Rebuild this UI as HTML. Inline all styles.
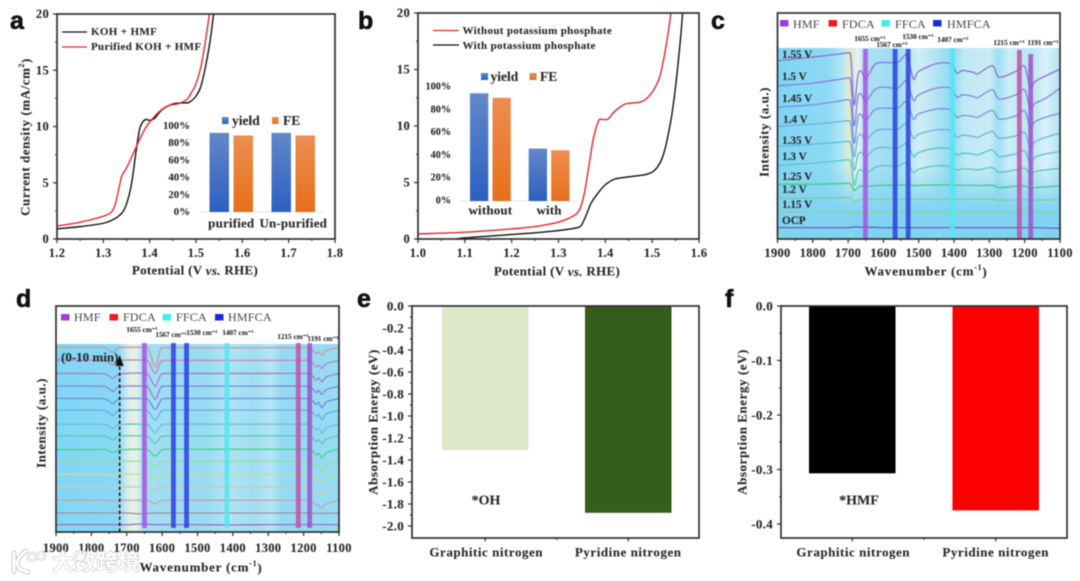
<!DOCTYPE html>
<html lang="en">
<head>
<meta charset="utf-8">
<title>HMF electro-oxidation figure</title>
<style>
html,body{margin:0;padding:0;background:#fff;width:1080px;height:581px;overflow:hidden}
svg{display:block;filter:blur(.45px)}
text{font-family:"Liberation Serif","Noto Serif CJK SC",serif;font-weight:bold;fill:#2b2b2b;stroke:#2b2b2b;stroke-width:.12}
.pl{font-family:"Liberation Sans",sans-serif;font-size:25px;fill:#111;stroke:#111;stroke-width:.6}
.tick{font-size:12.5px;letter-spacing:.3px}
.etick{font-size:13px;letter-spacing:.3px}
.title{font-size:13px;letter-spacing:.55px}
.leg{font-size:11px;letter-spacing:.34px}
.inleg{font-size:13.5px}
.intick{font-size:9.5px}
.cat{font-size:13px;letter-spacing:.53px}
.peak{font-size:7.2px;text-anchor:middle;dominant-baseline:central}
.spec{font-family:"Liberation Serif",serif;font-size:12px;font-weight:normal;fill:#444;stroke:none;letter-spacing:.2px;dominant-baseline:central}
.volt{font-size:11.2px;dominant-baseline:central}
.mid{text-anchor:middle;dominant-baseline:central}
.end{text-anchor:end;dominant-baseline:central}
.st{dominant-baseline:central}
</style>
</head>
<body>
<svg id="fig" xmlns="http://www.w3.org/2000/svg" width="1080" height="581" viewBox="0 0 1080 581">
<defs>
<linearGradient id="gb" x1="0" y1="0" x2="0" y2="1"><stop offset="0" stop-color="#6288ca"/><stop offset="1" stop-color="#2c60c0"/></linearGradient>
<linearGradient id="go" x1="0" y1="0" x2="0" y2="1"><stop offset="0" stop-color="#ec8e52"/><stop offset="1" stop-color="#e76f1a"/></linearGradient>
<linearGradient id="bgc" x1="0" y1="0" x2="1" y2="0">
<stop offset="0" stop-color="#7fd5f4"/><stop offset=".18" stop-color="#8edaf5"/><stop offset=".23" stop-color="#b5e6f5"/><stop offset=".25" stop-color="#e0ead0"/><stop offset=".27" stop-color="#dfead8"/><stop offset=".285" stop-color="#e6f3f5"/><stop offset=".31" stop-color="#a8e0f3"/><stop offset=".36" stop-color="#a8dff3"/><stop offset=".42" stop-color="#98dbf2"/><stop offset=".5" stop-color="#d0eef6"/><stop offset=".55" stop-color="#b8e6f3"/><stop offset=".62" stop-color="#8cdaf0"/><stop offset=".66" stop-color="#bfe9f5"/><stop offset=".75" stop-color="#c8ecf6"/><stop offset=".78" stop-color="#a0dff2"/><stop offset=".82" stop-color="#cdeef6"/><stop offset=".9" stop-color="#b5e6f4"/><stop offset=".95" stop-color="#daf1f7"/><stop offset="1" stop-color="#b0e3f4"/>
</linearGradient>
<linearGradient id="bgd" x1="0" y1="0" x2="1" y2="0">
<stop offset="0" stop-color="#82d6f5"/><stop offset=".22" stop-color="#88d8f5"/><stop offset=".25" stop-color="#cfeaf0"/><stop offset=".265" stop-color="#e4f0e2"/><stop offset=".285" stop-color="#e2f1ea"/><stop offset=".31" stop-color="#a2dff3"/><stop offset=".53" stop-color="#98dbf2"/><stop offset=".6" stop-color="#b0e4f4"/><stop offset=".7" stop-color="#a0def3"/><stop offset=".76" stop-color="#b4e6f4"/><stop offset=".8" stop-color="#93daf2"/><stop offset="1" stop-color="#98dcf3"/>
</linearGradient>
<linearGradient id="fade" x1="0" y1="0" x2="0" y2="1"><stop offset=".62" stop-color="#80d4f2" stop-opacity="0"/><stop offset=".85" stop-color="#80d4f2" stop-opacity="1"/></linearGradient>
</defs>

<!-- Panel a -->
<g id="panel-a">
<text class="pl" x="10" y="29">a</text>
<g id="a-plot"></g>
<line x1="62" x2="87" y1="32" y2="32" stroke="#111" stroke-width="1.3"/>
<text class="leg st" x="91" y="32">KOH + HMF</text>
<line x1="62" x2="87" y1="47" y2="47" stroke="#e8252b" stroke-width="1.3"/>
<text class="leg st" x="91" y="47">Purified KOH + HMF</text>
<text class="title mid" transform="translate(25 137) rotate(-90)">Current density (mA/cm<tspan dy="-4" font-size="8">2</tspan><tspan dy="4">)</tspan></text>
<text class="title mid" style="letter-spacing:.32px" x="195" y="270">Potential (V <tspan font-style="italic">vs.</tspan> RHE)</text>
<rect x="222" y="117" width="6.5" height="7" fill="url(#gb)"/>
<text class="inleg st" x="232" y="120.5">yield</text>
<rect x="272" y="117" width="6.5" height="7" fill="url(#go)"/>
<text class="inleg st" x="283" y="120.5">FE</text>
</g>

<!-- Panel b -->
<g id="panel-b">
<text class="pl" x="358" y="29">b</text>
<g id="b-plot"></g>
<line x1="433" x2="459" y1="30.5" y2="30.5" stroke="#e8252b" stroke-width="1.3"/>
<text class="leg st" x="462.5" y="31">Without potassium phosphate</text>
<line x1="433" x2="459" y1="45" y2="45" stroke="#111" stroke-width="1.3"/>
<text class="leg st" x="462.5" y="46">With potassium phosphate</text>
<text class="title mid" style="letter-spacing:.32px" x="557" y="271">Potential (V <tspan font-style="italic">vs.</tspan> RHE)</text>
<rect x="481" y="73" width="7" height="7" fill="url(#gb)"/>
<text class="inleg st" x="490.5" y="76.5">yield</text>
<rect x="529.5" y="73" width="7" height="7" fill="url(#go)"/>
<text class="inleg st" x="540" y="76.5">FE</text>
</g>

<!-- Panel c -->
<g id="panel-c">
<text class="pl" x="711" y="29">c</text>
<g id="c-plot"></g>
<rect x="780" y="20" width="8.5" height="6.5" fill="#9a3fe0"/>
<text class="spec" x="793" y="24">HMF</text>
<rect x="828.5" y="20" width="8.5" height="6.5" fill="#f01818"/>
<text class="spec" x="842" y="24">FDCA</text>
<rect x="881.5" y="20" width="8.5" height="6.5" fill="#3cf0f0"/>
<text class="spec" x="895" y="24">FFCA</text>
<rect x="933" y="20" width="8.5" height="6.5" fill="#1a28e0"/>
<text class="spec" x="947" y="24">HMFCA</text>
<text class="title mid" transform="translate(764 132) rotate(-90)">Intensity (a.u.)</text>
<text class="title mid" style="letter-spacing:.76px" x="926" y="271">Wavenumber (cm<tspan dy="-4" font-size="8">-1</tspan><tspan dy="4">)</tspan></text>
</g>

<!-- Panel d -->
<g id="panel-d">
<text class="pl" x="16" y="307">d</text>
<g id="d-plot"></g>
<rect x="61" y="314" width="8.5" height="6.5" fill="#9a3fe0"/>
<text class="spec" x="74" y="317">HMF</text>
<rect x="109.5" y="314" width="8.5" height="6.5" fill="#f01818"/>
<text class="spec" x="123" y="317">FDCA</text>
<rect x="162.5" y="314" width="8.5" height="6.5" fill="#3cf0f0"/>
<text class="spec" x="176" y="317">FFCA</text>
<rect x="215" y="314" width="8.5" height="6.5" fill="#1a28e0"/>
<text class="spec" x="228" y="317">HMFCA</text>
<text class="title mid" transform="translate(41 423) rotate(-90)">Intensity (a.u.)</text>
<text class="title mid" style="letter-spacing:.76px" x="201" y="567">Wavenumber (cm<tspan dy="-4" font-size="8">-1</tspan><tspan dy="4">)</tspan></text>
<text class="st" font-size="13" x="61" y="357">(0-10 min)</text>
</g>

<!-- Panel e -->
<g id="panel-e">
<text class="pl" x="357" y="307">e</text>
<g id="e-plot"></g>
<text class="title mid" transform="translate(373 422) rotate(-90)">Absorption Energy (eV)</text>
<text class="mid" font-size="14" x="486" y="501">*OH</text>
</g>

<!-- Panel f -->
<g id="panel-f">
<text class="pl" x="725" y="307">f</text>
<g id="f-plot"></g>
<text class="title mid" transform="translate(742 422) rotate(-90)">Absorption Energy (eV)</text>
<text class="mid" font-size="14" x="859" y="501">*HMF</text>
</g>

<!-- Watermark -->
<g id="watermark">
<g id="watermark-logo" fill="none" stroke-linecap="round">
<path d="M14 553 V572 M26 551 C20 556 17 560 17 563 C17 568 22 571 28 572" stroke="#bbb" stroke-width="4.5"/>
<path d="M14 553 V572 M26 551 C20 556 17 560 17 563 C17 568 22 571 28 572" stroke="#fff" stroke-width="3"/>
<circle cx="32" cy="557" r="4" stroke="#bbb" stroke-width="2.2"/>
<circle cx="32" cy="557" r="4" stroke="#fff" stroke-width="1.2"/>
<circle cx="41" cy="556" r="4" stroke="#bbb" stroke-width="2.2"/>
<circle cx="41" cy="556" r="4" stroke="#fff" stroke-width="1.2"/>
</g>
<text x="52" y="570" font-size="22" style="fill:#fff;stroke:#c4c4c4;stroke-width:1.1;paint-order:stroke;font-family:'Noto Sans CJK SC',sans-serif;font-weight:bold">大数跨境</text>
</g>
</svg>

<script>
// ---------- Panel a data ----------
const aBlackV = [1.2,1.25,1.3,1.32,1.335,1.345,1.355,1.362,1.37,1.375,1.38,1.39,1.4,1.41,1.42,1.43,1.45,1.47,1.485,1.5,1.51,1.52,1.53,1.538];
const aBlackJ = [0.9,1.1,1.4,1.7,2.1,2.6,3.8,5.2,7.6,9,10,10.6,10.55,10.7,11.2,11.6,12,12.1,12.15,12.7,13.5,15.2,17.5,20];
const aRedV = [1.2,1.25,1.29,1.315,1.325,1.332,1.34,1.35,1.36,1.37,1.38,1.39,1.4,1.42,1.44,1.46,1.48,1.49,1.5,1.51,1.52,1.529];
const aRedJ = [1.15,1.5,1.9,2.3,3,4.2,5.6,6.3,7.2,8.1,9,9.8,10.4,11.3,11.85,12,12.4,13,13.8,15.2,17.5,20];
const aXTicks = [1.2,1.3,1.4,1.5,1.6,1.7,1.8];
const aYTicks = [0,5,10,15,20];
const aInsetCats = ['purified','Un-purified'];
const aInsetYield = [92,92];
const aInsetFE = [89,89];
const insetTicks = [0,20,40,60,80,100];

// ---------- Panel b data ----------
const bRedV = [1,1.1,1.2,1.25,1.3,1.33,1.345,1.355,1.365,1.375,1.385,1.39,1.405,1.42,1.44,1.45,1.48,1.5,1.515,1.525,1.535,1.54];
const bRedJ = [0.45,0.6,0.9,1.1,1.5,2,2.6,4,6.5,9,10.4,10.6,10.6,11.3,11.9,12,12.2,13,14.2,16,18.5,20];
const bBlackV = [1.08,1.1,1.15,1.2,1.25,1.3,1.34,1.35,1.36,1.37,1.385,1.4,1.42,1.45,1.49,1.51,1.525,1.54,1.55,1.56,1.565];
const bBlackJ = [0,0.1,0.25,0.4,0.55,0.75,1,1.3,2.2,3.2,4.1,4.8,5.3,5.5,5.75,6.3,7.6,10.5,13.5,17.5,20];
const bXTicks = [1.0,1.1,1.2,1.3,1.4,1.5,1.6];
const bYTicks = [0,5,10,15,20];
const bInsetCats = ['without','with'];
const bInsetYield = [94.5,46];
const bInsetFE = [90.5,44.5];

// ---------- Panel c data ----------
const cWave = [1900,1800,1720,1700,1692,1683,1672,1662,1650,1625,1600,1560,1538,1530,1515,1500,1450,1410,1392,1375,1345,1332,1292,1272,1225,1200,1185,1170,1140,1100];
const cLabels = ['1.55 V','1.5 V','1.45 V','1.4 V','1.35 V','1.3 V','1.25 V','1.2 V','1.15 V','OCP'];
const c155 = [534,545,555,557,542,402,492,502,480,522,529,529,552,545,479,502,525,525,497,505,499,495,519,485,502,517,455,472,489,509];
const c150 = [459,467,479,482,467,339,427,432,412,447,455,452,474,467,415,432,452,452,425,432,427,424,447,419,432,447,392,407,422,452];
const c145 = [395,402,414,417,402,287,365,372,355,387,392,392,412,404,359,375,389,387,365,370,367,365,385,359,369,384,335,352,365,377];
const c140 = [337,344,352,354,342,247,307,312,297,322,329,329,347,339,302,314,327,325,305,311,307,305,322,302,309,319,277,292,305,317];
const c135 = [277,284,290,292,282,207,252,259,247,269,275,272,287,281,247,259,272,270,252,257,254,252,267,247,255,264,227,245,255,262];
const c130 = [220,227,235,237,227,162,202,207,195,214,220,219,229,225,199,209,219,217,207,210,209,207,214,200,207,212,195,202,207,212];
const c125 = [164,164,166,167,164,145,155,159,157,160,161,161,162,162,160,161,162,162,161,161,161,160,161,154,158,159,151,154,156,159];
const c120 = [122,122,124,124,122,110,115,118,118,119,119,119,119,119,119,119,119,119,119,119,119,119,119,116,117,118,115,116,117,118];
const c115 = [80,81,82,82,81,74,77,79,79,79,79,79,79,79,79,79,79,79,79,79,79,79,79,78,78,79,77,78,78,79];
const cOCP = [34,34,34,34,35,36,36,35,35,35,34,34,34,34,34,34,34,34,34,34,34,34,34,34,34,34,34,34,33,32];
const cSeries = [c155,c150,c145,c140,c135,c130,c125,c120,c115,cOCP];
const cBandWaves = [1651,1567,1530,1405,1215,1183];
const cPeakLabels = ['1655 cm⁻¹','1567 cm⁻¹','1530 cm⁻¹','1407 cm⁻¹','1215 cm⁻¹','1191 cm⁻¹'];
const xWaveTicks = [1900,1800,1700,1600,1500,1400,1300,1200,1100];

// ---------- Panel d data ----------
const dWave = [1900,1800,1760,1740,1725,1700,1660,1640,1620,1605,1590,1500,1400,1300,1200,1180,1165,1157,1148,1135,1100];
const d00 = [553,553,552,538,551,553,553,552,495,545,552,552,552,552,552,550,535,540,530,545,552];
const d01 = [515,515,513,500,513,515,515,512,475,508,514,514,514,514,514,512,495,500,490,505,514];
const d02 = [475,475,473,460,472,475,476,472,437,468,475,475,475,475,475,472,456,462,450,465,475];
const d03 = [437,437,435,422,434,437,437,434,398,430,437,437,437,437,437,434,418,424,412,427,437];
const d04 = [400,400,398,385,397,400,400,397,367,392,400,400,400,400,400,397,382,388,372,390,400];
const d05 = [365,365,363,350,362,365,365,362,335,358,365,365,365,365,365,362,347,352,336,354,365];
const d06 = [323,323,322,310,321,323,323,321,298,317,323,323,323,323,323,321,306,311,296,313,323];
const d07 = [288,288,287,276,286,288,288,286,266,283,288,288,288,288,288,286,272,277,264,279,288];
const d08 = [247,247,247,238,245,247,248,246,227,242,248,248,248,248,248,246,232,236,222,238,248];
const d09 = [212,212,212,205,211,212,212,211,195,208,212,212,212,212,212,210,197,196,185,200,212];
const d10 = [173,173,173,168,172,173,173,172,158,170,173,173,173,173,173,171,160,156,146,160,173];
const d11 = [135,135,135,132,134,135,135,134,122,132,135,135,135,135,135,133,122,118,110,122,135];
const d12 = [95,95,95,93,95,95,95,94,85,92,95,95,95,95,95,93,83,78,72,84,95];
const d13 = [57,57,57,57,57,57,54,56,57,57,57,57,57,57,57,57,56,56,56,56,57];
const d14 = [22,22,22,22,22,22,24,23,22,22,22,22,21,22,22,22,22,22,22,22,22];
const dSeries = [d00,d01,d02,d03,d04,d05,d06,d07,d08,d09,d10,d11,d12,d13,d14];
const dBandWaves = [1650,1568,1531,1417,1215,1183];
const dArrowWave = [1720];

// ---------- Panels e & f data ----------
const eCats = ['Graphitic nitrogen','Pyridine nitrogen'];
const eValues = [-1.31,-1.88];
const eYTicks = [0,-0.2,-0.4,-0.6,-0.8,-1.0,-1.2,-1.4,-1.6,-1.8,-2.0];
const fCats = ['Graphitic nitrogen','Pyridine nitrogen'];
const fValues = [-0.307,-0.375];
const fYTicks = [0,-0.1,-0.2,-0.3,-0.4];

// ---------- Helpers ----------
const NS = 'http://www.w3.org/2000/svg';
function make(tag, attrs, parent, name) {
  const el = document.createElementNS(NS, tag);
  for (const k in attrs) el.setAttribute(k, attrs[k]);
  
  
  parent.appendChild(el);
  return el;
}
function textEl(str, attrs, parent, name) {
  const el = make('text', attrs, parent, name);
  el.textContent = str;
  return el;
}
function scale(d0, d1, r0, r1) {
  return v => r0 + (v - d0) / (d1 - d0) * (r1 - r0);
}
function smooth(pts) {
  let d = 'M' + pts[0][0].toFixed(2) + ' ' + pts[0][1].toFixed(2);
  for (let i = 0; i < pts.length - 1; i++) {
    const p0 = pts[Math.max(i - 1, 0)], p1 = pts[i], p2 = pts[i + 1], p3 = pts[Math.min(i + 2, pts.length - 1)];
    const c1x = p1[0] + (p2[0] - p0[0]) / 6, c1y = p1[1] + (p2[1] - p0[1]) / 6;
    const c2x = p2[0] - (p3[0] - p1[0]) / 6, c2y = p2[1] - (p3[1] - p1[1]) / 6;
    d += 'C' + c1x.toFixed(2) + ' ' + c1y.toFixed(2) + ' ' + c2x.toFixed(2) + ' ' + c2y.toFixed(2) + ' ' + p2[0].toFixed(2) + ' ' + p2[1].toFixed(2);
  }
  return d;
}
function curve(xs, ys, sx, sy, color, width, parent, name) {
  const pts = xs.map((x, i) => [sx(x), sy(ys[i])]);
  return make('path', {d: smooth(pts), fill: 'none', stroke: color, 'stroke-width': width, 'stroke-linejoin': 'round'}, parent, name);
}
function frame(box, parent) {
  make('rect', {x: box.l, y: box.t, width: box.r - box.l, height: box.b - box.t, fill: 'none', stroke: '#303030', 'stroke-width': 1.7}, parent, 'plot-frame');
}
function xTicksDraw(ticks, sx, box, labelY, parent, fmt, minorLen) {
  ticks.forEach((t, i) => {
    const x = sx(t);
    make('line', {x1: x, x2: x, y1: box.b, y2: box.b + 4, stroke: '#303030', 'stroke-width': 1.2}, parent, 'x-tick');
    textEl(fmt(t), {class: 'tick mid', x: x, y: labelY}, parent, 'x-tick-label');
    if (i < ticks.length - 1) {
      const m = sx((t + ticks[i + 1]) / 2);
      make('line', {x1: m, x2: m, y1: box.b, y2: box.b + minorLen, stroke: '#303030', 'stroke-width': 1}, parent, 'x-minor-tick');
    }
  });
}
function yTicksDraw(ticks, sy, box, labelX, parent, fmt, cls) {
  ticks.forEach((t, i) => {
    const y = sy(t);
    make('line', {x1: box.l - 4, x2: box.l, y1: y, y2: y, stroke: '#303030', 'stroke-width': 1.2}, parent, 'y-tick');
    textEl(fmt(t), {class: cls + ' end', x: labelX, y: y}, parent, 'y-tick-label');
    if (i < ticks.length - 1) {
      const m = sy((t + ticks[i + 1]) / 2);
      make('line', {x1: box.l - 2, x2: box.l, y1: m, y2: m, stroke: '#303030', 'stroke-width': 1}, parent, 'y-minor-tick');
    }
  });
}
function inset(parent, cats, yields, fes, o) {
  const sy = scale(0, 100, o.base, o.top);
  make('line', {x1: o.x0, x2: o.x1, y1: o.base, y2: o.base, stroke: '#dbe6e6', 'stroke-width': 1}, parent, 'inset-baseline');
  insetTicks.forEach(t => {
    textEl(t + '%', {class: 'intick end', x: o.labelX, y: sy(t), style: 'font-size:' + o.fs + 'px'}, parent, 'inset-tick-label');
  });
  cats.forEach((c, i) => {
    const s = o.start + i * o.step;
    make('rect', {x: s, y: sy(yields[i]), width: o.w, height: o.base - sy(yields[i]), fill: 'url(#gb)'}, parent, 'inset-bar-yield');
    make('rect', {x: s + o.gap, y: sy(fes[i]), width: o.w, height: o.base - sy(fes[i]), fill: 'url(#go)'}, parent, 'inset-bar-fe');
    textEl(c, {class: 'cat mid', x: s + (o.gap + o.w) / 2, y: o.catY, style: 'letter-spacing:.17px;font-size:' + o.catFs + 'px'}, parent, 'inset-category-label');
  });
}

// ---------- Panel a ----------
(function () {
  const g = document.getElementById('a-plot');
  const box = {l: 57, r: 335, t: 14, b: 239};
  const sx = scale(1.2, 1.8, box.l, box.r), sy = scale(0, 20, box.b, box.t);
  inset(g, aInsetCats, aInsetYield, aInsetFE, {base: 212, top: 126, x0: 200, x1: 323, labelX: 190, fs: 10.8, start: 209.5, step: 62, w: 19.5, gap: 24, catY: 223, catFs: 13});
  curve(aBlackV, aBlackJ, sx, sy, '#111', 1.4, g, 'curve-koh-hmf');
  curve(aRedV, aRedJ, sx, sy, '#e8252b', 1.4, g, 'curve-purified-koh-hmf');
  frame(box, g);
  xTicksDraw(aXTicks, sx, box, 253, g, v => v.toFixed(1), 2);
  yTicksDraw(aYTicks, sy, box, 49, g, v => String(v), 'tick');
})();

// ---------- Panel b ----------
(function () {
  const g = document.getElementById('b-plot');
  const box = {l: 418, r: 699, t: 13, b: 239};
  const sx = scale(1.0, 1.6, box.l, box.r), sy = scale(0, 20, box.b, box.t);
  inset(g, bInsetCats, bInsetYield, bInsetFE, {base: 201, top: 87, x0: 460, x1: 578, labelX: 451, fs: 10.2, start: 470, step: 58.7, w: 18.3, gap: 22.5, catY: 210, catFs: 13});
  curve(bBlackV, bBlackJ, sx, sy, '#111', 1.4, g, 'curve-with-phosphate');
  curve(bRedV, bRedJ, sx, sy, '#e8252b', 1.4, g, 'curve-without-phosphate');
  frame(box, g);
  xTicksDraw(bXTicks, sx, box, 253, g, v => v.toFixed(1), 2);
  yTicksDraw(bYTicks, sy, box, 410, g, v => String(v), 'tick');
})();

// ---------- Spectra panels ----------
const cColors = ['#8a72d4','#8a80dc','#7a90e6','#6eaee6','#5cbcd8','#58c8bc','#44c68a','#78d09a','#8ed09c','#6a5cc0'];
const dColors = ['#c89a9a','#c484b4','#a67ad0','#8e80dc','#7688e4','#6cace6','#66c2d6','#58ccb0','#46d488','#9adc9a','#c6dc9c','#ccccA4','#b8aaaa','#a88e9c','#9a70ba'];
const bandColors = ['#a855e0','#2a40e0','#2a40e0','#50e8f0','#c050a8','#a050c8'];

(function () {
  const g = document.getElementById('c-plot');
  const box = {l: 777.5, r: 1060, t: 13, b: 239};
  const top = 48;
  const sx = scale(1900, 1100, box.l, box.r), sy = scale(0, 677, box.b, box.t);
  make('rect', {x: box.l, y: top, width: box.r - box.l, height: box.b - top, fill: 'url(#bgc)'}, g, 'spectrum-background');
  make('rect', {x: box.l, y: top, width: box.r - box.l, height: box.b - top, fill: 'url(#fade)'}, g, 'spectrum-background-fade');
  cSeries.forEach((s, i) => curve(cWave, s, sx, sy, cColors[i], 1.3, g, 'spectrum-' + cLabels[i].replace(/[ .]/g, '')));
  cBandWaves.forEach((w, i) => {
    const bt = i === 5 ? 54 : (i === 4 ? 50 : 49);
    make('rect', {x: sx(w) - 2.4, y: bt, width: 4.8, height: box.b - bt, fill: bandColors[i], opacity: 0.85}, g, 'assignment-band');
  });
  frame(box, g);
  xTicksDraw(xWaveTicks, sx, box, 253, g, v => String(v), 2);
  const labelRows = [55,77,99,120,141,157,177,190,205,221];
  cLabels.forEach((t, i) => textEl(t, {class: 'volt', x: i === 3 ? 783 : 782, y: labelRows[i]}, g, 'potential-label'));
  const lx = [870,892,918,953,1009,1043], ly = [39,45,37,40,43,43];
  cPeakLabels.forEach((t, i) => textEl(t, {class: 'peak', x: lx[i], y: ly[i]}, g, 'peak-label'));
})();

(function () {
  const g = document.getElementById('d-plot');
  const box = {l: 56, r: 339, t: 306, b: 532};
  const top = 344;
  const sx = scale(1900, 1100, box.l, box.r), sy = scale(0, 677, box.b, box.t);
  make('rect', {x: box.l, y: top, width: box.r - box.l, height: box.b - top, fill: 'url(#bgd)'}, g, 'spectrum-background');
  dSeries.forEach((s, i) => curve(dWave, s, sx, sy, dColors[i], 1.3, g, 'spectrum-time-' + i));
  dBandWaves.forEach((w, i) => {
    make('rect', {x: sx(w) - 2.4, y: 343, width: 4.8, height: 185, fill: bandColors[i], opacity: 0.85}, g, 'assignment-band');
  });
  const ax = sx(dArrowWave[0]);
  make('line', {x1: ax, x2: ax, y1: 532, y2: 362, stroke: '#111', 'stroke-width': 1.5, 'stroke-dasharray': '3.5 2.5'}, g, 'time-arrow-shaft');
  make('path', {d: 'M' + ax + ' 355 L' + (ax - 4) + ' 366 L' + (ax + 4) + ' 366 Z', fill: '#111'}, g, 'time-arrow-head');
  frame(box, g);
  xTicksDraw(xWaveTicks, sx, box, 548, g, v => String(v), 2);
  const lx = [142,171,202,238,293,323], ly = [330,335,333,333,337,339];
  cPeakLabels.forEach((t, i) => textEl(t, {class: 'peak', x: lx[i], y: ly[i]}, g, 'peak-label'));
})();

// ---------- Energy bar panels ----------
function energyPanel(id, box, yMax, yEnd, cats, values, ticks, colors, starts, barW, labelX, fmt) {
  const g = document.getElementById(id);
  const sy = scale(0, yMax, box.t, yEnd);
  values.forEach((v, i) => {
    make('rect', {x: starts[i], y: sy(0), width: barW, height: sy(v) - sy(0), fill: colors[i]}, g, 'bar-' + cats[i].split(' ')[0].toLowerCase());
  });
  frame(box, g);
  yTicksDraw(ticks, sy, box, labelX, g, fmt, 'etick');
  const mids = [];
  cats.forEach((c, i) => {
    const cx = starts[i] + barW / 2;
    mids.push(cx);
    make('line', {x1: cx, x2: cx, y1: box.b, y2: box.b + 3.5, stroke: '#303030', 'stroke-width': 1.2}, g, 'x-tick');
    textEl(c, {class: 'cat mid', x: cx + (i === 0 ? 1 : 0), y: 552}, g, 'x-category-label');
  });
  const m = (mids[0] + mids[1]) / 2;
  make('line', {x1: m, x2: m, y1: box.b, y2: box.b + 2, stroke: '#303030', 'stroke-width': 1}, g, 'x-minor-tick');
}
energyPanel('e-plot', {l: 412, r: 699, t: 306, b: 538}, -2.0, 526, eCats, eValues, eYTicks, ['#dfe9c9','#355e1a'], [442,585], 86.5, 404, v => v.toFixed(1));
energyPanel('f-plot', {l: 781, r: 1067, t: 306, b: 538}, -0.4, 524, fCats, fValues, fYTicks, ['#000000','#ff0000'], [809,952.5], 86.5, 773, v => v.toFixed(1));
</script>
</body>
</html>
